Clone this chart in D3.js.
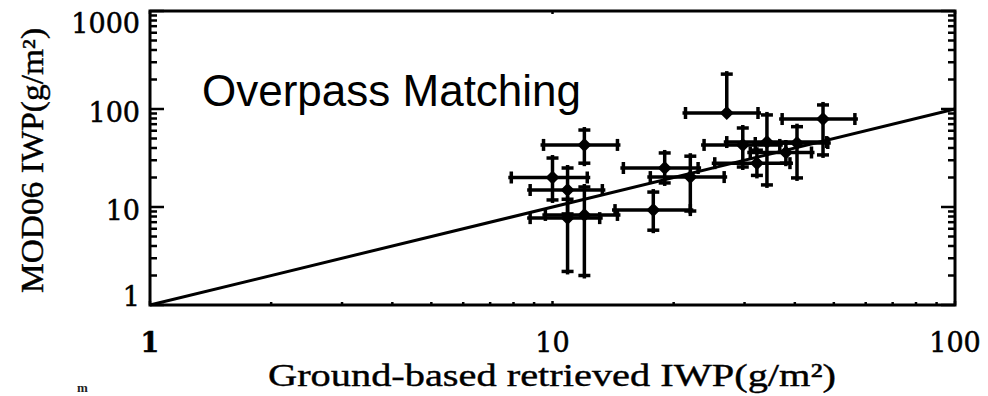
<!DOCTYPE html>
<html>
<head>
<meta charset="utf-8">
<script src="https://cdn.jsdelivr.net/npm/d3@7"></script>
<style>
  html, body { margin: 0; padding: 0; background: #fff; }
  svg { display: block; }
</style>
</head>
<body>
<svg id="chart" width="988" height="396"></svg>
<script>
// Ground-based retrieved IWP (g/m²): central value and error-bar bounds
const groundIWP  = [12.0, 10.0, 10.9, 10.9, 12.0, 17.8, 19.0, 22.0, 27.1, 47.0, 29.7, 34.1, 40.5, 32.2, 38.0];
const groundLow  = [ 9.5,  7.9,  8.8,  8.8,  9.6, 14.3, 15.0, 17.5, 21.4, 37.2, 23.8, 27.1, 31.9, 25.3, 31.0];
const groundHigh = [14.5, 12.2, 13.3, 13.1, 14.5, 22.0, 23.0, 26.7, 32.4, 56.4, 36.7, 48.0, 48.3, 38.9, 44.0];

// MOD06 IWP (g/m²): central value and error-bar bounds
const modisIWP  = [43, 20.0, 14.9,  7.7,  8.3,  9.3, 25.0, 20.2,  91,  79, 43.0, 46.0, 45.0, 28.0, 36.0];
const modisLow  = [28, 11.8,  8.5,  2.2,  2.0,  5.8, 17.6,  9.1,  91,  34, 25.6, 16.8, 19.8, 21.0, 28.0];
const modisHigh = [61, 31.6, 25.0, 12.0, 16.0, 14.2, 35.6, 33.0, 227, 110, 64.0, 87.0, 66.0, 38.0, 45.0];

// 1:1 reference line end points
const oneToOne = [1, 100];

// Axis domains and labels
const xDomain = [1, 100];
const yDomain = [1, 1000];
const xTickLabels = [1, 10, 100];
const yTickLabels = [1, 10, 100, 1000];

const titleText = "Overpass Matching";
const xTitle = "Ground-based retrieved IWP(g/m²)";
const yTitle = "MOD06 IWP(g/m²)";

const svg = d3.select("#chart");
const plotL = 150, plotR = 955, plotT = 11, plotB = 305;

const x = d3.scaleLog().domain(xDomain).range([plotL, plotR]);
const y = d3.scaleLog().domain(yDomain).range([plotB, plotT]);

const isMajor = v => Math.abs(Math.log10(v) - Math.round(Math.log10(v))) < 1e-9;

// Frame
svg.append("rect")
  .attr("x", plotL).attr("y", plotT)
  .attr("width", plotR - plotL).attr("height", plotB - plotT)
  .attr("fill", "none").attr("stroke", "#000").attr("stroke-width", 3);

// Y ticks on both sides (inward)
const yt = svg.append("g").attr("stroke", "#000").attr("stroke-width", 2.5);
y.ticks().forEach(v => {
  const len = isMajor(v) ? 14 : 7;
  const py = y(v);
  yt.append("line").attr("x1", plotL).attr("x2", plotL + len).attr("y1", py).attr("y2", py);
  yt.append("line").attr("x1", plotR).attr("x2", plotR - len).attr("y1", py).attr("y2", py);
});

// X ticks: short marks along the bottom, major only along the top
const xt = svg.append("g").attr("stroke", "#000").attr("stroke-width", 2.5);
x.ticks().forEach(v => {
  const px = x(v);
  const len = isMajor(v) ? 4 : 3;
  xt.append("line").attr("x1", px).attr("x2", px).attr("y1", plotB).attr("y2", plotB - len);
  if (isMajor(v)) {
    xt.append("line").attr("x1", px).attr("x2", px).attr("y1", plotT).attr("y2", plotT + 3);
  }
});

// Y tick labels
const tickFont = "'DejaVu Serif', serif";
yTickLabels.forEach(v => {
  const cy = Math.max(23, Math.min(296, y(v) + 3));
  svg.append("text")
    .attr("x", 140).attr("y", cy)
    .attr("text-anchor", "end")
    .attr("dominant-baseline", "central")
    .attr("font-family", tickFont)
    .attr("font-size", 27)
    .attr("fill", "#000")
    .attr("stroke", "#000").attr("stroke-width", 0.5)
    .text(v);
});

// X tick labels
xTickLabels.forEach(v => {
  svg.append("text")
    .attr("x", x(v)).attr("y", 352)
    .attr("text-anchor", "middle")
    .attr("font-family", tickFont)
    .attr("font-size", 27)
    .attr("font-weight", v === 1 ? "bold" : "normal")
    .attr("fill", "#000")
    .attr("stroke", "#000").attr("stroke-width", 0.5)
    .text(v);
});

// 1:1 line
svg.append("path")
  .datum(oneToOne)
  .attr("d", d3.line().x(d => x(d)).y(d => y(d)))
  .attr("stroke", "#000").attr("stroke-width", 3).attr("fill", "none");

// Error bars with end caps
const points = groundIWP.map((g, i) => ({
  gx: g, gl: groundLow[i], gh: groundHigh[i],
  my: modisIWP[i], ml: modisLow[i], mh: modisHigh[i]
}));

const capHalf = 6, overshoot = 3;
const eb = svg.append("g").attr("stroke", "#000").attr("stroke-width", 3.5).attr("fill", "none");
points.forEach(p => {
  const cx = x(p.gx), cy = y(p.my);
  const xl = x(p.gl), xh = x(p.gh);
  const yl = y(p.ml), yh = y(p.mh);
  // horizontal bar
  eb.append("line").attr("x1", xl - overshoot).attr("x2", xh + overshoot).attr("y1", cy).attr("y2", cy);
  eb.append("line").attr("x1", xl).attr("x2", xl).attr("y1", cy - capHalf).attr("y2", cy + capHalf);
  eb.append("line").attr("x1", xh).attr("x2", xh).attr("y1", cy - capHalf).attr("y2", cy + capHalf);
  // vertical bar
  const hasUp = yh < cy - 0.5, hasDown = yl > cy + 0.5;
  const yTopEnd = hasUp ? yh - overshoot : cy;
  const yBotEnd = hasDown ? yl + overshoot : cy;
  eb.append("line").attr("x1", cx).attr("x2", cx).attr("y1", yTopEnd).attr("y2", yBotEnd);
  if (hasUp) eb.append("line").attr("x1", cx - capHalf).attr("x2", cx + capHalf).attr("y1", yh).attr("y2", yh);
  if (hasDown) eb.append("line").attr("x1", cx - capHalf).attr("x2", cx + capHalf).attr("y1", yl).attr("y2", yl);
});

// Diamond markers
svg.append("g").selectAll("path")
  .data(points)
  .join("path")
  .attr("transform", d => `translate(${x(d.gx)},${y(d.my)})`)
  .attr("d", "M0,-7L7,0L0,7L-7,0Z")
  .attr("fill", "#000");

// Panel title
svg.append("text")
  .attr("x", 202).attr("y", 106)
  .attr("font-family", "'Liberation Sans', Arial, sans-serif")
  .attr("font-size", 44)
  .attr("fill", "#000")
  .text(titleText);

// Axis titles
const titleFont = "'Liberation Serif', 'Times New Roman', serif";
svg.append("text")
  .attr("x", 268).attr("y", 386)
  .attr("font-family", titleFont)
  .attr("font-size", 32)
  .attr("textLength", 568)
  .attr("lengthAdjust", "spacingAndGlyphs")
  .attr("fill", "#000")
  .attr("stroke", "#000").attr("stroke-width", 0.4)
  .text(xTitle);

svg.append("text")
  .attr("transform", "translate(43,293) rotate(-90)")
  .attr("font-family", titleFont)
  .attr("font-size", 31)
  .attr("textLength", 265)
  .attr("lengthAdjust", "spacingAndGlyphs")
  .attr("fill", "#000")
  .attr("stroke", "#000").attr("stroke-width", 0.4)
  .text(yTitle);

// Small mark in the lower-left corner
svg.append("text")
  .attr("x", 77).attr("y", 392)
  .attr("font-family", titleFont)
  .attr("font-size", 13)
  .attr("font-weight", "bold")
  .attr("fill", "#222")
  .text("m");
</script>
</body>
</html>
